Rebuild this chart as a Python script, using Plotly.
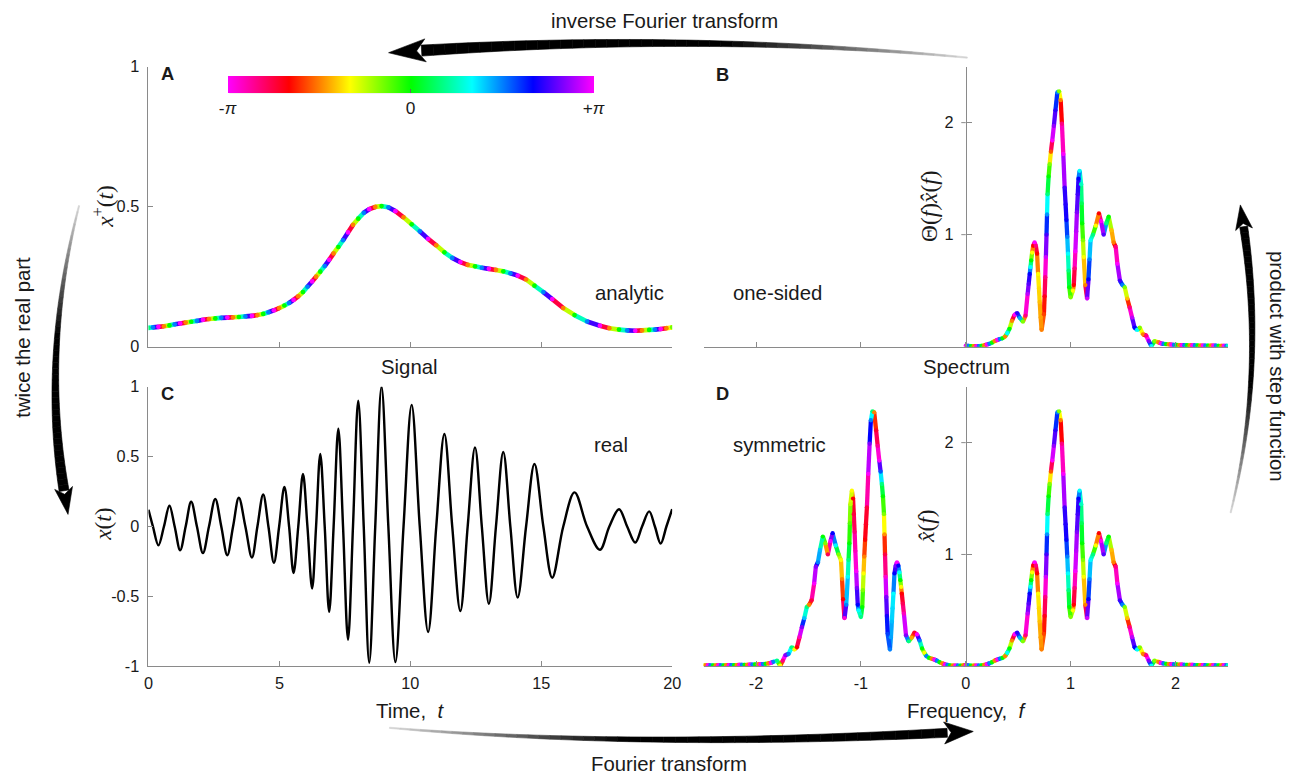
import numpy as np
import plotly.graph_objects as go

# The photographed window shows the figure slightly reduced and offset; positions below are
# given in window pixels of the target picture and converted to paper units by px().
W, H = 1293, 773
FIGW, FIGH = 1310, 792
SX, SY = 0.988, 0.977      # window px per figure px
AX, AY = 4.0, 8.4          # window offset of the figure origin
K = 1 / 0.983              # size compensation for fonts / widths

# ---------------- Panel C: real signal x(t) : crests, troughs and zero crossings ----------------
sig_t = [0.00, 0.17, 0.38, 0.59, 0.80, 1.00, 1.21, 1.42, 1.63, 1.85, 2.08, 2.31, 2.55, 2.78, 3.01,
         3.23, 3.45, 3.70, 3.95, 4.16, 4.38, 4.58, 4.79, 4.99, 5.19, 5.37, 5.54, 5.72, 5.90, 6.07,
         6.25, 6.40, 6.56, 6.73, 6.90, 7.07, 7.25, 7.43, 7.62, 7.81, 8.01, 8.22, 8.43, 8.66, 8.90,
         9.16, 9.43, 9.74, 10.05, 10.36, 10.68, 10.99, 11.30, 11.60, 11.91, 12.19, 12.47, 12.73,
         13.00, 13.27, 13.55, 13.82, 14.10, 14.42, 14.74, 15.08, 15.42, 15.84, 16.27, 16.75, 17.24,
         17.60, 17.97, 18.28, 18.59, 18.85, 19.12, 19.34, 19.56, 19.78, 20.00]
sig_x = [0.12, 0, -0.135, 0, 0.148, 0, -0.17, 0, 0.177, 0, -0.19, 0, 0.196, 0, -0.205,
         0, 0.205, 0, -0.222, 0, 0.229, 0, -0.26, 0, 0.282, 0, -0.332, 0, 0.375, 0,
         -0.444, 0, 0.519, 0, -0.61, 0, 0.70, 0, -0.81, 0, 0.90, 0, -0.975, 0, 1.0,
         0, -0.97, 0, 0.87, 0, -0.755, 0, 0.662, 0, -0.605, 0, 0.566, 0,
         -0.552, 0, 0.533, 0, -0.509, 0, 0.447, 0, -0.366, 0, 0.244, 0, -0.167,
         0, 0.124, 0, -0.115, 0, 0.108, 0, -0.122, 0, 0.124]

# ---------------- Panel A: |x+(t)| read at the same instants, and its phase (deg) ----------------
ana_mag = [0.067, 0.069, 0.071, 0.073, 0.076, 0.080, 0.083, 0.086, 0.089, 0.092, 0.096, 0.099, 0.101,
           0.103, 0.104, 0.105, 0.106, 0.108, 0.110, 0.113, 0.117, 0.123, 0.130, 0.138, 0.147, 0.156,
           0.167, 0.180, 0.195, 0.214, 0.233, 0.250, 0.268, 0.288, 0.310, 0.333, 0.356, 0.380, 0.408,
           0.435, 0.457, 0.478, 0.491, 0.499, 0.502, 0.498, 0.484, 0.462, 0.437, 0.412, 0.385, 0.362,
           0.337, 0.317, 0.302, 0.292, 0.287, 0.282, 0.278, 0.274, 0.269, 0.262, 0.254, 0.240, 0.218,
           0.195, 0.170, 0.138, 0.113, 0.090, 0.075, 0.066, 0.061, 0.058, 0.057, 0.058, 0.060, 0.061,
           0.063, 0.066, 0.069]
ana_phase = [26,
             90, 180, -90, 0, 90, 180, -90, 0, 90, 180, -90, 0, 90, 180, -90, 0, 90, 180, -90, 0,
             90, 180, -90, 0, 90, 180, -90, 0, 90, 180, -90, 0, 90, 180, -90, 0, 90, 180, -90, 0,
             90, 180, -90, 0, 90, 180, -90, 0, 90, 180, -90, 0, 90, 180, -90, 0, 90, 180, -90, 0,
             90, 180, -90, 0, 90, 180, -90, 0, 90, 180, -90, 0, 90, 180, -90, 0, 90, 180, -90, -26]

# ---------------- Panels B / D: spectrum, f >= 0 : magnitude and phase (deg) ----------------
spec_f = [0.000, 0.025, 0.050, 0.075, 0.100, 0.125, 0.150, 0.175, 0.200, 0.225, 0.250, 0.275, 0.300,
          0.325, 0.350, 0.375, 0.395, 0.417, 0.440, 0.465, 0.490, 0.516, 0.545, 0.570, 0.590, 0.600,
          0.610, 0.617, 0.624, 0.633, 0.643, 0.656, 0.668, 0.680, 0.690, 0.698, 0.705, 0.714, 0.723,
          0.745, 0.752, 0.758, 0.764, 0.770, 0.775, 0.780, 0.790, 0.800, 0.812, 0.825, 0.840, 0.855,
          0.873, 0.890, 0.905, 0.917, 0.930, 0.943, 0.952, 0.960, 0.968, 0.975, 0.981, 0.987, 1.000,
          1.022, 1.030, 1.038, 1.045, 1.053, 1.060, 1.068, 1.075, 1.086, 1.100, 1.105, 1.110, 1.118,
          1.125, 1.140, 1.157, 1.170, 1.180, 1.190, 1.213, 1.240, 1.270, 1.290, 1.315, 1.340, 1.363,
          1.390, 1.410, 1.430, 1.446, 1.470, 1.494, 1.516, 1.540, 1.563, 1.586, 1.610, 1.634, 1.660,
          1.690, 1.720, 1.745, 1.770, 1.800, 1.835, 1.860, 1.885, 1.910, 1.935, 1.960, 1.985, 2.010,
          2.035, 2.060, 2.085, 2.110, 2.135, 2.160, 2.185, 2.210, 2.235, 2.260, 2.285, 2.310, 2.335,
          2.360, 2.385, 2.410, 2.435, 2.460, 2.485, 2.500]
spec_amp = [0.010, 0.008, 0.006, 0.005, 0.006, 0.006, 0.008, 0.012, 0.018, 0.026, 0.036, 0.050, 0.060,
            0.068, 0.075, 0.090, 0.120, 0.160, 0.230, 0.285, 0.300, 0.256, 0.223, 0.277, 0.470, 0.560,
            0.650, 0.710, 0.770, 0.840, 0.900, 0.930, 0.900, 0.830, 0.650, 0.520, 0.400, 0.260, 0.150,
            0.290, 0.450, 0.620, 0.800, 1.000, 1.180, 1.360, 1.520, 1.630, 1.740, 1.840, 1.970, 2.110,
            2.270, 2.280, 2.200, 1.990, 1.720, 1.420, 1.270, 1.130, 0.980, 0.830, 0.680, 0.530, 0.440,
            0.500, 0.550, 0.700, 0.850, 1.030, 1.200, 1.360, 1.500, 1.570, 1.450, 1.280, 1.100, 0.950,
            0.800, 0.550, 0.430, 0.600, 0.780, 0.950, 1.000, 1.080, 1.190, 1.120, 1.000, 1.100, 1.160,
            1.040, 0.930, 0.890, 0.740, 0.590, 0.550, 0.530, 0.430, 0.350, 0.260, 0.170, 0.150, 0.170,
            0.110, 0.100, 0.050, 0.005, 0.050, 0.040, 0.030, 0.025, 0.022, 0.020, 0.018, 0.017, 0.016,
            0.015, 0.014, 0.013, 0.013, 0.012, 0.012, 0.011, 0.011, 0.010, 0.010, 0.010, 0.009, 0.009,
            0.009, 0.009, 0.008, 0.008, 0.008, 0.008, 0.008]
spec_phase = [180, 90, 0, -90, 180, 90, 0, -90, 180, 90, 0, -90, 180,
              90, 0, -90, 60, 0, -90, 180, 130, 80, -30, -150, 165, 140,
              120, 60, 0, -60, -120, 180, -150, -120, -60, -68, -75, -82, -90,
              -105, -125, -150, 170, 135, 85, 30, 0, -30, -100, 180, 155, 130,
              90, -30, -90, -150, 180, 135, 128, 120, 90, 60, 30, 0, -30,
              -60, -120, -150, 180, 165, 150, 135, 120, 60, 45, 20, 0, -30,
              -60, -90, 170, 120, 90, 60, 30, -60, -120, 180, 140, 30, 0,
              -75, -90, -150, 180, 135, 90, -30, -75, -150, 165, 120, 60, -30,
              -90, -150, 150, 60, -30, -90, 180, 90, 0, -90, 180, 90, 0,
              -90, 180, 90, 0, -90, 180, 90, 0, -90, 180, 90, 0, -90,
              180, 90, 0, -90, 180, 90, 45]

# ---------------- ticks ----------------
t_ticks = [0, 5, 10, 15, 20]
f_ticks = [-2, -1, 0, 1, 2]
f_ticktext = ['-2', '-1', '0', '1', '2']
xa_ticks = [0, 0.5, 1]
xc_ticks = [-1, -0.5, 0, 0.5, 1]
xc_ticktext = ['-1', '-0.5', '0', '0.5', '1']
spec_ticks = [1, 2]
phase_ticks = [-180, 0, 180]
phase_ticktext = ['-<i>π</i>', '0', '+<i>π</i>']
phase_minor = [-90, 90]

SANS = 'Liberation Sans, Arial, Helvetica, sans-serif'
SERIF = 'Liberation Serif, Times New Roman, serif'
AXC = '#8a8a8a'
TXT = '#1a1a1a'

PHASE_CS = [[0, '#ff00ff'], [1 / 6, '#ff0000'], [2 / 6, '#ffff00'], [3 / 6, '#00ff00'],
            [4 / 6, '#00ffff'], [5 / 6, '#0000ff'], [1, '#ff00ff']]


def phase_hex(p):
    h = ((120.0 + p) % 360.0) / 60.0
    i = int(h) % 6
    f = h - int(h)
    q = 1 - f
    rgb = [(1, f, 0), (q, 1, 0), (0, 1, f), (0, q, 1), (f, 0, 1), (1, 0, q)][i]
    return '#%02x%02x%02x' % tuple(int(round(255 * c)) for c in rgb)


def px(x, y):
    """target-window pixel -> paper fraction"""
    return ((x - AX) / SX) / FIGW, 1 - ((y - AY) / SY) / FIGH


fig = go.Figure()


def add_phase_curve(xs, ys, ph, xa, ya, width):
    groups = {}
    for i in range(len(xs) - 1):
        d = ((ph[i + 1] - ph[i] + 180) % 360) - 180
        mid = ph[i] + d / 2
        key = (int(round(((mid + 180) % 360) / 5.0)) * 5) % 360 - 180
        g = groups.setdefault(key, ([], []))
        g[0].extend([xs[i], xs[i + 1], None])
        g[1].extend([ys[i], ys[i + 1], None])
    for key in sorted(groups):
        gx, gy = groups[key]
        fig.add_trace(go.Scatter(x=gx, y=gy, mode='lines', xaxis=xa, yaxis=ya,
                                 line=dict(color=phase_hex(key), width=width * K),
                                 hoverinfo='skip', showlegend=False))
    fig.add_trace(go.Scatter(x=xs, y=ys, mode='markers', xaxis=xa, yaxis=ya,
                             marker=dict(size=width * K, color=[phase_hex(p) for p in ph],
                                         line=dict(width=0)),
                             hoverinfo='skip', showlegend=False))


# colour-bar geometry (target pixels)
CB_L, CB_R, CB_T, CB_B = 228, 590, 75, 92

# Panel A
add_phase_curve(sig_t, ana_mag, ana_phase, 'x', 'y', 4.6)
cbx, cby = px((CB_L + CB_R) / 2, CB_T)
fig.add_trace(go.Scatter(x=[None], y=[None], mode='markers', xaxis='x', yaxis='y', showlegend=False,
                         marker=dict(color=[0], cmin=-180, cmax=180, colorscale=PHASE_CS, showscale=True,
                                     colorbar=dict(orientation='h', x=cbx, xanchor='center',
                                                   y=cby, yanchor='top', len=(CB_R - CB_L) / SX,
                                                   lenmode='pixels',
                                                   thickness=(CB_B - CB_T) / SY, thicknessmode='pixels',
                                                   outlinewidth=0, ticks='inside', ticklen=4,
                                                   tickcolor='#666', tickvals=phase_ticks,
                                                   ticktext=phase_ticktext,
                                                   tickfont=dict(size=17 * K, family=SANS, color=TXT),
                                                   xpad=0, ypad=0))))

# Panel B (one-sided)
add_phase_curve(spec_f, spec_amp, spec_phase, 'x2', 'y2', 4.2)

# Panel C
fig.add_trace(go.Scatter(x=sig_t, y=sig_x, mode='lines', xaxis='x3', yaxis='y3',
                         line=dict(color='black', width=2.4 * K, shape='spline', smoothing=1.0),
                         hoverinfo='skip', showlegend=False))

# Panel D (symmetric: mirrored, conjugate phase)
d_f = [-f for f in spec_f[::-1]] + spec_f[1:]
d_amp = spec_amp[::-1] + spec_amp[1:]
d_ph = [-p for p in spec_phase[::-1]] + spec_phase[1:]
add_phase_curve(d_f, d_amp, d_ph, 'x4', 'y4', 4.2)

# ---------------- axes ----------------
xA = [px(147.3, 0)[0], px(670.3, 0)[0]]
xB = [px(701.7, 0)[0], px(1225.3, 0)[0]]
yTop = [px(0, 346)[1], px(0, 66)[1]]
yBot = [px(0, 665.5)[1], px(0, 386)[1]]
yaxis_pos = px(963.5, 0)[0]

common = dict(showgrid=False, zeroline=False, showline=True, linecolor=AXC, linewidth=1,
              ticks='inside', ticklen=5, tickcolor=AXC, tickwidth=1,
              tickfont=dict(size=16 * K, family=SANS, color=TXT))

fig.update_layout(
    width=FIGW, height=FIGH, margin=dict(l=0, r=0, t=0, b=0),
    paper_bgcolor='white', plot_bgcolor='rgba(0,0,0,0)', showlegend=False,
    font=dict(family=SANS, size=16, color=TXT),
    xaxis=dict(domain=xA, range=[0, 20], anchor='y', tickvals=t_ticks, showticklabels=False, **common),
    yaxis=dict(domain=yTop, range=[0, 1], anchor='x', tickvals=xa_ticks, ticktext=['0', '0.5', '1'],
               ticklabelstandoff=5, **common),
    xaxis2=dict(domain=xB, range=[-2.5, 2.5], anchor='y2', tickvals=f_ticks, showticklabels=False, **common),
    yaxis2=dict(domain=yTop, range=[0, 2.5], anchor='free', position=yaxis_pos, side='left',
                tickvals=spec_ticks, ticklabelstandoff=9, **common),
    xaxis3=dict(domain=xA, range=[0, 20], anchor='y3', tickvals=t_ticks, ticklabelstandoff=2, **common),
    yaxis3=dict(domain=yBot, range=[-1, 1], anchor='x3', tickvals=xc_ticks, ticktext=xc_ticktext,
                ticklabelstandoff=5, **common),
    xaxis4=dict(domain=xB, range=[-2.5, 2.5], anchor='y4', tickvals=f_ticks, ticktext=f_ticktext,
                ticklabelstandoff=2, **common),
    yaxis4=dict(domain=yBot, range=[0, 2.5], anchor='free', position=yaxis_pos, side='left',
                tickvals=spec_ticks, ticklabelstandoff=9, **common),
)

# ---------------- texts ----------------
ann = []


def text(s, x, y, size=20, angle=0, family=SANS, bold=False):
    xx, yy = px(x, y)
    ann.append(dict(text=('<b>%s</b>' % s) if bold else s, x=xx, y=yy, xref='paper', yref='paper',
                    xanchor='center', yanchor='middle', showarrow=False, textangle=angle,
                    font=dict(size=size * K, family=family, color=TXT)))


text('inverse Fourier transform', 663, 20)
text('Fourier transform', 667, 763)
text('twice the real part', 22, 337, angle=-90)
text('product with step function', 1275, 366, angle=90)
text('Signal', 408, 366)
text('Spectrum', 964, 366)
text('analytic', 628, 292)
text('real', 609, 444)
text('one-sided', 775, 292)
text('symmetric', 777, 444)
text('Time,\u00a0 <i>t</i>', 408, 710)
text('Frequency,\u00a0 <i>f</i>', 964, 710)
text('A', 166, 73, size=18, bold=True)
text('B', 721, 74, size=18, bold=True)
text('C', 166, 393, size=18, bold=True)
text('D', 721, 393, size=18, bold=True)
text('<i>x</i><sup>+</sup>(<i>t</i>)', 102, 206, size=23, angle=-90, family=SERIF)
text('<i>x</i>(<i>t</i>)', 102, 524, size=23, angle=-90, family=SERIF)
text('Θ(<i>f</i>)<i>x\u0302</i>(<i>f</i>)', 926, 206, size=23, angle=-90, family=SERIF)
text('<i>x\u0302</i>(<i>f</i>)', 924, 526, size=23, angle=-90, family=SERIF)

# ---------------- curved tapered arrows (decoration) ----------------
shapes = []


def arrow(p0, p1, p2, w0, w1, L, hw, n=48, gray_frac=0.45):
    def B(t):
        return np.array([(1 - t) ** 2 * p0[0] + 2 * (1 - t) * t * p1[0] + t * t * p2[0],
                         (1 - t) ** 2 * p0[1] + 2 * (1 - t) * t * p1[1] + t * t * p2[1]])

    def D(t):
        d = np.array([2 * (1 - t) * (p1[0] - p0[0]) + 2 * t * (p2[0] - p1[0]),
                      2 * (1 - t) * (p1[1] - p0[1]) + 2 * t * (p2[1] - p1[1])])
        return d / np.hypot(*d)

    ts = np.linspace(0, 1, n + 1)
    P = [B(t) for t in ts]
    N = [np.array([-D(t)[1], D(t)[0]]) for t in ts]
    Wd = [w0 + (w1 - w0) * t for t in ts]

    def pp(v):
        a, b = px(v[0], v[1])
        return '%.5f,%.5f' % (a, b)

    for k in range(n):
        tm = (ts[k] + ts[k + 1]) / 2
        lev = int(round(215 * max(0.0, 1 - tm / gray_frac)))
        col = 'rgb(%d,%d,%d)' % (lev, lev, lev)
        a = P[k] + N[k] * Wd[k] / 2
        b = P[k + 1] + N[k + 1] * Wd[k + 1] / 2
        c = P[k + 1] - N[k + 1] * Wd[k + 1] / 2
        d = P[k] - N[k] * Wd[k] / 2
        shapes.append(dict(type='path', xref='paper', yref='paper', layer='above',
                           path='M %s L %s L %s L %s Z' % (pp(a), pp(b), pp(c), pp(d)),
                           fillcolor=col, line=dict(color=col, width=0.6)))
    u = D(1.0)
    nrm = np.array([-u[1], u[0]])
    pe = np.array(p2, dtype=float)
    tip = pe + u * L
    c1 = pe - u * 0.12 * L + nrm * hw
    c2 = pe - u * 0.12 * L - nrm * hw
    notch = pe + u * 0.15 * L
    shapes.append(dict(type='path', xref='paper', yref='paper', layer='above',
                       path='M %s L %s L %s L %s Z' % (pp(tip), pp(c1), pp(notch), pp(c2)),
                       fillcolor='black', line=dict(color='black', width=0.6)))


arrow((965, 57), (700, 32), (420, 50), 1.2, 11, 33, 11.5)
arrow((78, 205), (40, 352), (63, 490), 1.2, 10, 24, 9)
arrow((1228, 512), (1263, 370), (1241, 226), 1.2, 8, 22, 8.5)
arrow((388, 727), (634, 748), (945, 732), 1.2, 9, 26, 11)

# colour-bar bottom edge and its quarter ticks
x0, y0 = px(CB_L, CB_B)
x1, _ = px(CB_R, CB_B)
shapes.append(dict(type='line', xref='paper', yref='paper', x0=x0, x1=x1, y0=y0, y1=y0,
                   line=dict(color='#777', width=1)))
for pv in phase_minor:
    xm = CB_L + (pv + 180) / 360 * (CB_R - CB_L)
    a, b = px(xm, CB_B)
    _, c = px(xm, CB_B - 4)
    shapes.append(dict(type='line', xref='paper', yref='paper', x0=a, x1=a, y0=b, y1=c,
                       line=dict(color='#666', width=1)))

# outward half of the ticks crossing the spectrum y axes (at the tick values)
xo0, xo1 = px(959.0, 0)[0], px(963.5, 0)[0]
for yref in ('y2', 'y4'):
    for v in spec_ticks:
        shapes.append(dict(type='line', xref='paper', yref=yref, x0=xo0, x1=xo1, y0=v, y1=v,
                           line=dict(color=AXC, width=1)))

fig.update_layout(annotations=ann, shapes=shapes)

fig.write_html('out.html')
